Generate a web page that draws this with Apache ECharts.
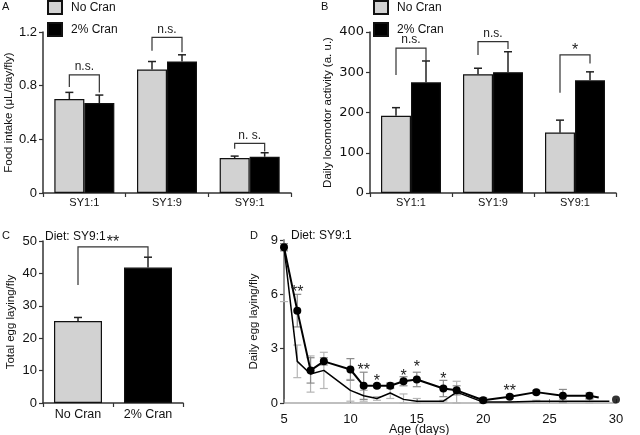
<!DOCTYPE html>
<html><head><meta charset="utf-8">
<script src="https://cdn.jsdelivr.net/npm/echarts@6/dist/echarts.min.js"></script>
<style>html,body{margin:0;padding:0;background:#fff}#c{width:640px;height:435px}</style>
</head><body><div id="c"></div>
<script>
// ---------- DATA ----------
const dietCategories = ['SY1:1', 'SY1:9', 'SY9:1'];
const seriesNames = ['No Cran', '2% Cran'];
// Panel A: food intake (µL/day/fly)
const foodNoCran = [0.70, 0.92, 0.26];
const foodNoCranErr = [0.05, 0.06, 0.015];
const foodCran = [0.67, 0.98, 0.27];
const foodCranErr = [0.06, 0.05, 0.03];
const foodBrackets = [[0, 0.79, 0.75, 0.88], [1, 1.06, 1.05, 1.16], [2, 0.33, 0.31, 0.37]];
const foodBracketLabels = ['n.s.', 'n.s.', 'n. s.'];
// Panel B: locomotor activity
const locoNoCran = [192, 295, 150];
const locoNoCranErr = [20, 15, 31];
const locoCran = [275, 300, 280];
const locoCranErr = [53, 51, 21];
const locoBrackets = [[0, 293, 328, 360], [1, 343, 358, 376], [2, 249, 322, 343]];
const locoBracketLabels = ['n.s.', 'n.s.', '*'];
// Panel C: total egg laying
const eggCategories = ['No Cran', '2% Cran'];
const eggTotal = [25.3, 41.8];
const eggTotalErr = [1.1, 3.2];
const eggBracket = [[0, 1, 36.4, 45.0, 48.2]];
const eggBracketLabels = ['**'];
// Panel D: daily egg laying
const days = [5, 6, 7, 8, 10, 11, 12, 13, 14, 15, 17, 18, 20, 22, 24, 26, 28];
const dailyCran = [8.6, 5.1, 1.8, 2.3, 1.85, 0.95, 0.95, 0.95, 1.2, 1.3, 0.8, 0.7, 0.15, 0.35, 0.6, 0.4, 0.4];
const dailyCranErr = [0.2, 0.9, 0.7, 0.2, 0.6, 0.75, 0.1, 0.15, 0.25, 0.4, 0.45, 0.25, 0.15, 0.1, 0.1, 0.35, 0.15];
const dailyNoCran = [8.6, 2.3, 1.6, 1.8, 0.7, 0.4, 0.25, 0.55, 0.2, 0.1, 0.1, 0.6, 0.05, 0.05, 0.1, 0.1, 0.1];
const dailyNoCranErr = [3.0, 0.9, 1.0, 1.0, 0.6, 0.3, 0.1, 0.3, 0.3, 0.15, 0.05, 0.6, 0.05, 0.0, 0.05, 0.1, 0.1];
const cranTail = [[28.7, 0.3]];
const noCranTail = [[29.5, 0.1]];
const cranDay30 = [[30, 0.2]];
const dailyStars = [[6, 6.1, '**'], [11, 1.8, '**'], [12, 1.2, '*'], [14, 1.45, '*'], [15, 1.95, '*'], [17, 1.3, '*'], [22, 0.65, '**']];

// ---------- STYLE ----------
const FONT = 'Liberation Sans, Arial, sans-serif';
const GRAY = '#d2d2d2';
const DARK = '#111';
const AXIS = '#333';

const chart = echarts.init(document.getElementById('c'), null, {renderer: 'canvas'});

function errData(vals, errs) { return vals.map((v, i) => [i, v, errs[i]]); }

function upperErr(offset, color) {
  return function (params, api) {
    const x = api.value(0), v = api.value(1), e = api.value(2);
    const p0 = api.coord([x, v]);
    const p1 = api.coord([x, v + e]);
    const cx = p0[0] + offset;
    return {type: 'group', children: [
      {type: 'line', shape: {x1: cx, y1: p0[1], x2: cx, y2: p1[1]}, style: {stroke: color, lineWidth: 1.5}},
      {type: 'line', shape: {x1: cx - 4, y1: p1[1], x2: cx + 4, y2: p1[1]}, style: {stroke: color, lineWidth: 1.5}}
    ]};
  };
}
function bothErr(color, lw) {
  return function (params, api) {
    const x = api.value(0), v = api.value(1), e = api.value(2);
    const pt = api.coord([x, Math.min(9, v + e)]);
    const pb = api.coord([x, Math.max(0, v - e)]);
    const cx = pt[0];
    const kids = [
      {type: 'line', shape: {x1: cx, y1: pt[1], x2: cx, y2: pb[1]}, style: {stroke: color, lineWidth: lw}},
      {type: 'line', shape: {x1: cx - 4, y1: pb[1], x2: cx + 4, y2: pb[1]}, style: {stroke: color, lineWidth: lw}}
    ];
    if (v + e <= 9) kids.push({type: 'line', shape: {x1: cx - 4, y1: pt[1], x2: cx + 4, y2: pt[1]}, style: {stroke: color, lineWidth: lw}});
    return {type: 'group', children: kids};
  };
}
function catBracket(labels, half) {
  return function (params, api) {
    const c = api.value(0);
    const pl = api.coord([c, api.value(1)]);
    const pr = api.coord([c, api.value(2)]);
    const pt = api.coord([c, api.value(3)]);
    const lx = pl[0] - half, rx = pl[0] + half;
    const lab = labels[params.dataIndex];
    const isStar = lab.indexOf('*') >= 0;
    return {type: 'group', children: [
      {type: 'polyline', shape: {points: [[lx, pl[1]], [lx, pt[1]], [rx, pt[1]], [rx, pr[1]]]}, style: {stroke: AXIS, lineWidth: 1.2, fill: null}},
      {type: 'text', style: {text: lab, x: (lx + rx) / 2, y: pt[1] - (isStar ? -4 : 2), align: 'center', verticalAlign: 'bottom', font: (isStar ? '16px ' : '12px ') + FONT, fill: '#222'}}
    ]};
  };
}
function pairBracket(labels) {
  return function (params, api) {
    const pl = api.coord([api.value(0), api.value(2)]);
    const pr = api.coord([api.value(1), api.value(3)]);
    const ty = api.coord([api.value(0), api.value(4)])[1];
    return {type: 'group', children: [
      {type: 'polyline', shape: {points: [[pl[0], pl[1]], [pl[0], ty], [pr[0], ty], [pr[0], pr[1]]]}, style: {stroke: AXIS, lineWidth: 1.2, fill: null}},
      {type: 'text', style: {text: labels[params.dataIndex], x: (pl[0] + pr[0]) / 2, y: ty + 4, align: 'center', verticalAlign: 'bottom', font: '16px ' + FONT, fill: '#222'}}
    ]};
  };
}
function starText(params, api) {
  const p = api.coord([api.value(0), api.value(1)]);
  return {type: 'text', style: {text: dailyStars[params.dataIndex][2], x: p[0], y: p[1], align: 'center', verticalAlign: 'middle', font: '16px ' + FONT, fill: '#222'}};
}

const catAxisBase = {
  type: 'category', axisLine: {lineStyle: {color: AXIS, width: 1.5}},
  axisTick: {show: true, length: 4, lineStyle: {color: AXIS, width: 1.2}},
  axisLabel: {color: '#111', fontFamily: FONT, fontSize: 11, margin: 4}
};
const valAxisBase = {
  type: 'value', splitLine: {show: false},
  axisLine: {show: true, lineStyle: {color: AXIS, width: 1.5}},
  axisTick: {show: true, length: 4, lineStyle: {color: AXIS, width: 1.2}},
  axisLabel: {color: '#111', fontFamily: FONT, fontSize: 13, margin: 6},
  nameLocation: 'middle', nameRotate: 90,
  nameTextStyle: {color: '#111', fontFamily: FONT, fontSize: 11.5}
};

const option = {
  animation: false,
  backgroundColor: '#fff',
  grid: [
    {left: 43, top: 32, width: 248, height: 161},
    {left: 370, top: 32, width: 246, height: 161},
    {left: 43, top: 241, width: 140, height: 162},
    {left: 284, top: 240, width: 332, height: 163}
  ],
  xAxis: [
    Object.assign({}, catAxisBase, {gridIndex: 0, data: dietCategories}),
    Object.assign({}, catAxisBase, {gridIndex: 1, data: dietCategories}),
    Object.assign({}, catAxisBase, {gridIndex: 2, data: eggCategories, axisLabel: Object.assign({}, catAxisBase.axisLabel, {fontSize: 12.5, margin: 5})}),
    Object.assign({}, valAxisBase, {gridIndex: 3, min: 5, max: 30, interval: 5, nameRotate: 0,
      axisLine: {lineStyle: {color: '#aaa', width: 1.5}},
      axisTick: {inside: true, length: 4, lineStyle: {color: '#888'}},
      axisLabel: Object.assign({}, valAxisBase.axisLabel, {margin: 10})})
  ],
  yAxis: [
    Object.assign({}, valAxisBase, {gridIndex: 0, min: 0, max: 1.2, interval: 0.4, name: 'Food intake (μL/day/fly)', nameGap: 26}),
    Object.assign({}, valAxisBase, {gridIndex: 1, min: 0, max: 400, interval: 100, name: 'Daily locomotor activity (a. u.)', nameGap: 36,
      axisLabel: Object.assign({}, valAxisBase.axisLabel, {fontFamily: 'DejaVu Sans', fontSize: 13})}),
    Object.assign({}, valAxisBase, {gridIndex: 2, min: 0, max: 50, interval: 10, name: 'Total egg laying/fly', nameGap: 26}),
    Object.assign({}, valAxisBase, {gridIndex: 3, min: 0, max: 9, interval: 3, name: 'Daily egg laying/fly', nameGap: 19})
  ],
  legend: [
    {left: 47, top: 0, padding: 0, orient: 'vertical', itemGap: 7, itemWidth: 14, itemHeight: 13, icon: 'rect', data: seriesNames,
      textStyle: {fontFamily: FONT, fontSize: 12, color: '#111', padding: [0, 0, 0, 4]}},
    {left: 373, top: 0, padding: 0, orient: 'vertical', itemGap: 7, itemWidth: 14, itemHeight: 13, icon: 'rect', data: seriesNames,
      textStyle: {fontFamily: FONT, fontSize: 12, color: '#111', padding: [0, 0, 0, 4]}}
  ],
  graphic: [
    {type: 'text', left: 2, top: 1, style: {text: 'A', font: '11px ' + FONT, fill: '#111'}},
    {type: 'text', left: 321, top: 1, style: {text: 'B', font: '11px ' + FONT, fill: '#111'}},
    {type: 'text', left: 2, top: 230, style: {text: 'C', font: '11px ' + FONT, fill: '#111'}},
    {type: 'text', left: 250, top: 230, style: {text: 'D', font: '11px ' + FONT, fill: '#111'}},
    {type: 'text', left: 45, top: 231, style: {text: 'Diet: SY9:1', font: '12px ' + FONT, fill: '#111'}},
    {type: 'text', left: 291, top: 230, style: {text: 'Diet: SY9:1', font: '12px ' + FONT, fill: '#111'}},
    {type: 'text', left: 389, top: 423, style: {text: 'Age (days)', font: '12.5px ' + FONT, fill: '#111'}}
  ],
  series: [
    // A
    {name: seriesNames[0], type: 'bar', xAxisIndex: 0, yAxisIndex: 0, data: foodNoCran, barWidth: 30, barGap: '0%',
      itemStyle: {color: GRAY, borderColor: DARK, borderWidth: 1.2}},
    {name: seriesNames[1], type: 'bar', xAxisIndex: 0, yAxisIndex: 0, data: foodCran, barWidth: 30, barGap: '0%',
      itemStyle: {color: '#000', borderColor: DARK, borderWidth: 1.2}},
    {type: 'custom', xAxisIndex: 0, yAxisIndex: 0, data: errData(foodNoCran, foodNoCranErr), renderItem: upperErr(-15, '#222'), z: 5},
    {type: 'custom', xAxisIndex: 0, yAxisIndex: 0, data: errData(foodCran, foodCranErr), renderItem: upperErr(15, '#222'), z: 5},
    {type: 'custom', xAxisIndex: 0, yAxisIndex: 0, data: foodBrackets, renderItem: catBracket(foodBracketLabels, 15), z: 6},
    // B
    {name: seriesNames[0], type: 'bar', xAxisIndex: 1, yAxisIndex: 1, data: locoNoCran, barWidth: 30, barGap: '0%',
      itemStyle: {color: GRAY, borderColor: DARK, borderWidth: 1.2}},
    {name: seriesNames[1], type: 'bar', xAxisIndex: 1, yAxisIndex: 1, data: locoCran, barWidth: 30, barGap: '0%',
      itemStyle: {color: '#000', borderColor: DARK, borderWidth: 1.2}},
    {type: 'custom', xAxisIndex: 1, yAxisIndex: 1, data: errData(locoNoCran, locoNoCranErr), renderItem: upperErr(-15, '#222'), z: 5},
    {type: 'custom', xAxisIndex: 1, yAxisIndex: 1, data: errData(locoCran, locoCranErr), renderItem: upperErr(15, '#222'), z: 5},
    {type: 'custom', xAxisIndex: 1, yAxisIndex: 1, data: locoBrackets, renderItem: catBracket(locoBracketLabels, 15), z: 6},
    // C
    {type: 'bar', xAxisIndex: 2, yAxisIndex: 2, barWidth: 48,
      data: eggTotal.map((v, i) => ({value: v, itemStyle: {color: i === 0 ? GRAY : '#000'}})),
      itemStyle: {borderColor: DARK, borderWidth: 1.2}},
    {type: 'custom', xAxisIndex: 2, yAxisIndex: 2, data: errData(eggTotal, eggTotalErr), renderItem: upperErr(0, '#222'), z: 5},
    {type: 'custom', xAxisIndex: 2, yAxisIndex: 2, data: eggBracket, renderItem: pairBracket(eggBracketLabels), z: 6},
    // D
    {type: 'custom', xAxisIndex: 3, yAxisIndex: 3, data: days.map((d, i) => [d, dailyNoCran[i], dailyNoCranErr[i]]), renderItem: bothErr('#b5b5b5', 1.2), z: 2},
    {type: 'custom', xAxisIndex: 3, yAxisIndex: 3, data: days.map((d, i) => [d, dailyCran[i], dailyCranErr[i]]), renderItem: bothErr('#8a8a8a', 1.2), z: 2},
    {type: 'line', xAxisIndex: 3, yAxisIndex: 3, data: days.map((d, i) => [d, dailyNoCran[i]]).concat(noCranTail), symbol: 'none',
      lineStyle: {color: '#000', width: 1.5}, z: 3},
    {type: 'line', xAxisIndex: 3, yAxisIndex: 3, data: days.map((d, i) => [d, dailyCran[i]]), symbol: 'circle', symbolSize: 8,
      itemStyle: {color: '#000'}, lineStyle: {color: '#000', width: 2}, z: 4},
    {type: 'line', xAxisIndex: 3, yAxisIndex: 3, data: [[days[days.length - 1], dailyCran[dailyCran.length - 1]]].concat(cranTail), symbol: 'none',
      lineStyle: {color: '#000', width: 2}, z: 4},
    {type: 'scatter', xAxisIndex: 3, yAxisIndex: 3, data: cranDay30, symbolSize: 8, itemStyle: {color: '#000'}, z: 4},
    {type: 'custom', xAxisIndex: 3, yAxisIndex: 3, data: dailyStars.map(s => [s[0], s[1]]), renderItem: starText, z: 6}
  ]
};
chart.setOption(option);
</script></body></html>
